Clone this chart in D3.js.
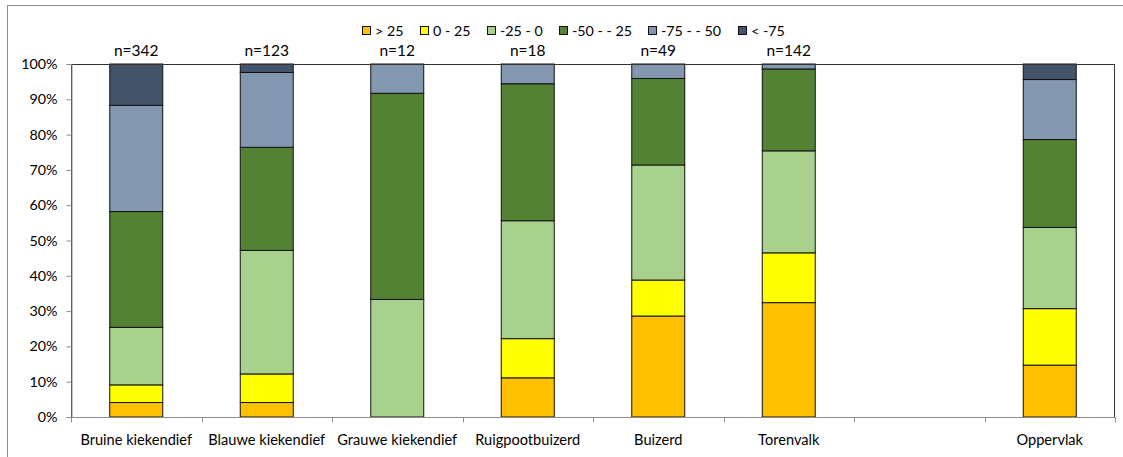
<!DOCTYPE html>
<html>
<head>
<meta charset="utf-8">
<script src="https://cdn.jsdelivr.net/npm/d3@7"></script>
<style>
  html, body { margin: 0; padding: 0; background: #fff; }
  svg { display: block; font-family: Lato, "Open Sans", sans-serif; }
</style>
</head>
<body>
<svg id="chart" width="1123" height="457"></svg>
<script>
// Categories (one empty slot between Torenvalk and Oppervlak)
const categories = ["Bruine kiekendief", "Blauwe kiekendief", "Grauwe kiekendief",
  "Ruigpootbuizerd", "Buizerd", "Torenvalk", "", "Oppervlak"];
const sampleSizes = ["n=342", "n=123", "n=12", "n=18", "n=49", "n=142", "", ""];

// Classes, bottom to top of each stack
const seriesNames = ["> 25", "0 - 25", "-25 - 0", "-50 - - 25", "-75 - - 50", "< -75"];
const seriesColors = ["#FFC000", "#FFFF00", "#A9D18E", "#548235", "#8497B0", "#44546A"];

// Share (%) per category, one array per class
const gt25     = [4.1, 4.1, 0,    11.1, 28.6, 32.4, null, 14.7];
const p0to25   = [5.0, 8.1, 0,    11.1, 10.2, 14.1, null, 16.0];
const m25to0   = [16.3, 35.0, 33.3, 33.4, 32.6, 28.9, null, 23.0];
const m50tom25 = [32.8, 29.2, 58.4, 38.8, 24.5, 23.2, null, 24.9];
const m75tom50 = [30.1, 21.2, 8.3,  5.6,  4.1,  1.4, null, 17.0];
const ltm75    = [11.7, 2.4, 0,    0,    0,    0,   null, 4.4];

const yTicks = [0, 10, 20, 30, 40, 50, 60, 70, 80, 90, 100];

const seriesValues = [gt25, p0to25, m25to0, m50tom25, m75tom50, ltm75];

const svg = d3.select("#chart");
const W = 1123, H = 457;
const margin = { left: 71, right: 8, top: 64, bottom: 40 };
const plotW = 1115 - margin.left;
const plotH = 417 - margin.top;

// Outer chart frame
svg.append("rect")
  .attr("x", 7.5).attr("y", 5.5)
  .attr("width", W + 10).attr("height", H + 10)
  .attr("fill", "none").attr("stroke", "#8c8c8c").attr("stroke-width", 1);

const x = d3.scaleBand().domain(d3.range(categories.length))
  .range([margin.left, margin.left + plotW]).padding(0);
const y = d3.scaleLinear().domain([0, 100]).range([margin.top + plotH, margin.top]);
const barW = x.bandwidth() * 0.406;

// Build stacked rows
const rows = categories.map((c, i) => {
  const r = { idx: i };
  seriesNames.forEach((s, k) => { r[s] = seriesValues[k][i] || 0; });
  r.empty = seriesValues.every(a => a[i] == null);
  return r;
});
const stack = d3.stack().keys(seriesNames);
const layers = stack(rows);

const g = svg.append("g");
layers.forEach((layer, k) => {
  g.selectAll(null)
    .data(layer.filter(d => !d.data.empty && d[1] - d[0] > 0))
    .join("rect")
    .attr("x", d => x(d.data.idx) + (x.bandwidth() - barW) / 2)
    .attr("y", d => y(d[1]))
    .attr("width", barW)
    .attr("height", d => y(d[0]) - y(d[1]))
    .attr("fill", seriesColors[k])
    .attr("stroke", "#111")
    .attr("stroke-width", 1);
});

// Plot area border
svg.append("rect")
  .attr("x", margin.left + 0.5).attr("y", margin.top + 0.5)
  .attr("width", plotW - 1).attr("height", plotH)
  .attr("fill", "none").attr("stroke", "#333").attr("stroke-width", 1);

// Y axis
const yAxis = d3.axisLeft(y).tickValues(yTicks).tickFormat(d => d + "%")
  .tickSizeInner(5).tickSizeOuter(5).tickPadding(9);
const yg = svg.append("g").attr("transform", `translate(${margin.left + 0.5},0)`).call(yAxis);
yg.select(".domain").attr("stroke", "#8c8c8c");
yg.selectAll(".tick line").attr("stroke", "#8c8c8c");
yg.selectAll(".tick text").attr("font-size", 14.3).attr("fill", "#000")
  .attr("font-family", "Lato, sans-serif");

// X axis: ticks at category boundaries
const xg = svg.append("g").attr("transform", `translate(0,${margin.top + plotH + 0.5})`);
xg.append("line")
  .attr("x1", margin.left).attr("x2", margin.left + plotW)
  .attr("stroke", "#8c8c8c");
xg.selectAll("line.tk")
  .data(d3.range(categories.length + 1))
  .join("line").attr("class", "tk")
  .attr("x1", i => Math.round(margin.left + i * x.step()) + 0.5)
  .attr("x2", i => Math.round(margin.left + i * x.step()) + 0.5)
  .attr("y1", 0).attr("y2", 5)
  .attr("stroke", "#8c8c8c");
xg.selectAll("text")
  .data(categories)
  .join("text")
  .attr("x", (d, i) => x(i) + x.bandwidth() / 2)
  .attr("y", 27)
  .attr("text-anchor", "middle")
  .attr("font-size", 14.6)
  .attr("fill", "#000")
  .text(d => d);

// Sample size labels above bars
svg.append("g").selectAll("text")
  .data(sampleSizes)
  .join("text")
  .attr("x", (d, i) => x(i) + x.bandwidth() / 2)
  .attr("y", 56)
  .attr("text-anchor", "middle")
  .attr("font-size", 15.5)
  .attr("fill", "#000")
  .text(d => d);

// Legend
const legendX = [362, 420, 487, 559, 648, 738];
const lg = svg.append("g");
seriesNames.forEach((s, k) => {
  lg.append("rect")
    .attr("x", legendX[k] + 0.5).attr("y", 26.5)
    .attr("width", 8).attr("height", 8)
    .attr("fill", seriesColors[k]).attr("stroke", "#111");
  lg.append("text")
    .attr("x", legendX[k] + 13).attr("y", 35.5)
    .attr("font-size", 14.3).attr("fill", "#000")
    .text(s);
});
</script>
</body>
</html>
